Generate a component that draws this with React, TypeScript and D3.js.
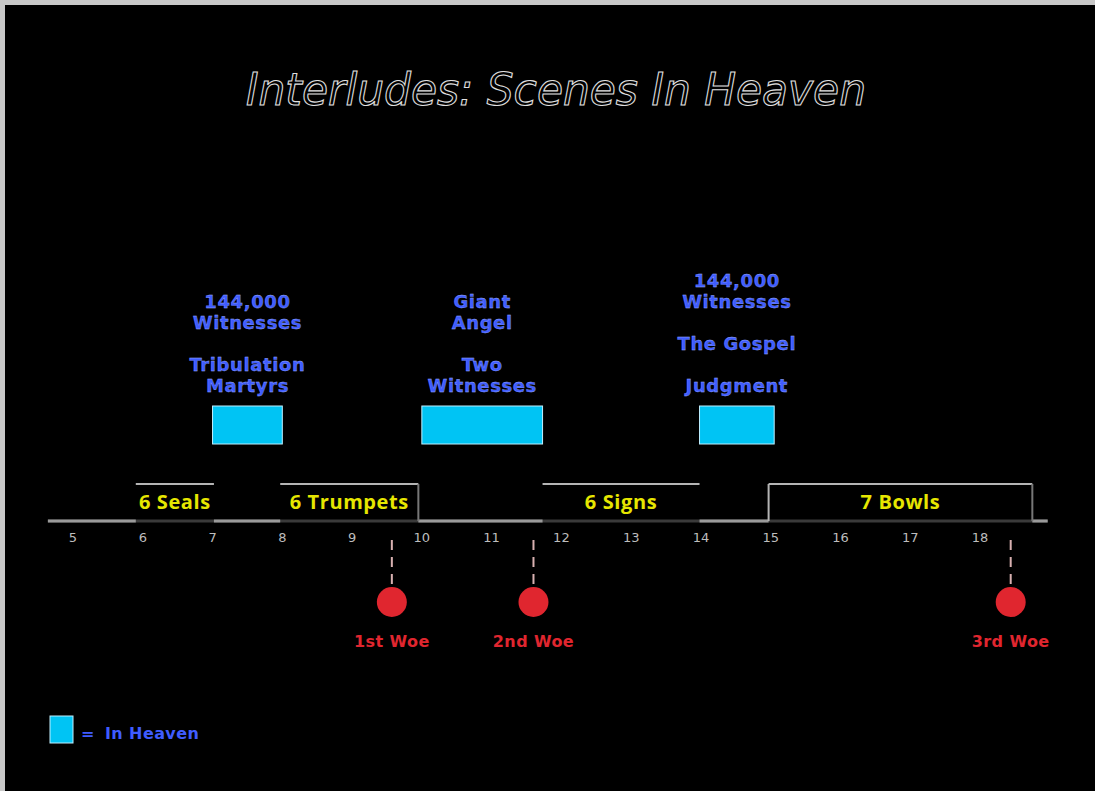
import React from "react";
import * as d3 from "d3";

const chapters = [5, 6, 7, 8, 9, 10, 11, 12, 13, 14, 15, 16, 17, 18];
const axisExtent = [4.64, 18.97];

const segLabels = ["6 Seals", "6 Trumpets", "6 Signs", "7 Bowls"];
const segStart = [5.9, 7.97, 11.73, 14.97];
const segEnd = [7.02, 9.95, 13.98, 18.75];
const segLeftEdge = [false, false, false, true];
const segRightEdge = [false, true, false, true];

const heavenStart = [7.0, 10.0, 13.98];
const heavenEnd = [8.0, 11.73, 15.05];
const heavenLabels = [
  [["144,000", "Witnesses"], ["Tribulation", "Martyrs"]],
  [["Giant", "Angel"], ["Two", "Witnesses"]],
  [["144,000", "Witnesses"], ["The Gospel"], ["Judgment"]],
];

const woeNames = ["1st Woe", "2nd Woe", "3rd Woe"];
const woeAt = [9.57, 11.6, 18.44];

const W = 1095;
const H = 791;

export default function App() {
  const x = d3.scaleLinear().domain([5, 18]).range([73, 980]);
  const base = 521;
  const top = 484;
  const blue = "#3f5cff";
  const red = "#e0262f";

  const gaps: [number, number][] = [];
  let prev = axisExtent[0];
  segStart.forEach((s, i) => {
    gaps.push([prev, s]);
    prev = segEnd[i];
  });
  gaps.push([prev, axisExtent[1]]);

  const line = d3.line<[number, number]>().x((d) => d[0]).y((d) => d[1]);

  return (
    <svg width={W} height={H} style={{ position: "absolute", left: 0, top: 0 }}>
      <rect x={0} y={0} width={W} height={H} fill="#c8c8c8" />
      <rect x={5} y={5} width={W - 5} height={H - 5} fill="#000" />

      <text
        x={556}
        y={105}
        textAnchor="middle"
        fontFamily="DejaVu Sans, sans-serif"
        fontStyle="italic"
        fontSize={44}
        fill="none"
        stroke="#e0e0e0"
        strokeWidth={1.1}
        textLength={620}
        lengthAdjust="spacingAndGlyphs"
      >
        Interludes: Scenes In Heaven
      </text>

      <path
        d={line([[x(axisExtent[0]), base], [x(axisExtent[1]), base]]) || ""}
        stroke="#3a3a3a"
        strokeWidth={3}
      />
      {gaps.map((g, i) => (
        <path
          key={"g" + i}
          d={line([[x(g[0]), base], [x(g[1]), base]]) || ""}
          stroke="#9a9a9a"
          strokeWidth={3}
        />
      ))}
      {segLabels.map((lab, i) => {
        const x0 = x(segStart[i]);
        const x1 = x(segEnd[i]);
        return (
          <g key={"s" + i}>
            <path d={line([[x0, top], [x1, top]]) || ""} stroke="#b4b4b4" strokeWidth={2} />
            {segLeftEdge[i] && (
              <path d={line([[x0, top], [x0, base]]) || ""} stroke="#b4b4b4" strokeWidth={2} />
            )}
            {segRightEdge[i] && (
              <path d={line([[x1, top], [x1, base]]) || ""} stroke="#777" strokeWidth={2} />
            )}
            <text
              x={(x0 + x1) / 2}
              y={509}
              textAnchor="middle"
              fontFamily="Open Sans, sans-serif"
              fontWeight="bold"
              fontSize={20}
              letterSpacing={0.6}
              fill="#e6e600"
            >
              {lab}
            </text>
          </g>
        );
      })}

      {chapters.map((c) => (
        <text
          key={"t" + c}
          x={x(c)}
          y={542}
          textAnchor="middle"
          fontFamily="DejaVu Sans, sans-serif"
          fontSize={13}
          fill="#bdbdbd"
        >
          {c}
        </text>
      ))}

      {heavenStart.map((s, i) => {
        const x0 = x(s);
        const x1 = x(heavenEnd[i]);
        const cx = (x0 + x1) / 2;
        const groups = heavenLabels[i];
        const lines: { t: string; y: number }[] = [];
        let y = 392;
        for (let g = groups.length - 1; g >= 0; g--) {
          const grp = groups[g];
          for (let k = grp.length - 1; k >= 0; k--) {
            lines.push({ t: grp[k], y });
            y -= 21;
          }
          y -= 21;
        }
        return (
          <g key={"h" + i}>
            <rect x={x0} y={406} width={x1 - x0} height={38} fill="#00c4f4" stroke="#bfefff" strokeWidth={1} />
            {lines.map((l, k) => (
              <text
                key={k}
                x={cx}
                y={l.y}
                textAnchor="middle"
                fontFamily="DejaVu Sans, sans-serif"
                fontWeight="bold"
                fontSize={18}
                letterSpacing={0.6}
                fill={blue}
                stroke="#9fb0ff"
                strokeWidth={0.3}
              >
                {l.t}
              </text>
            ))}
          </g>
        );
      })}

      {woeAt.map((w, i) => (
        <g key={"w" + i}>
          <line x1={x(w)} x2={x(w)} y1={540} y2={584} stroke="#d8b0b0" strokeWidth={2} strokeDasharray="10,7" />
          <circle cx={x(w)} cy={602} r={15} fill={red} />
          <text
            x={x(w)}
            y={647}
            textAnchor="middle"
            fontFamily="DejaVu Sans, sans-serif"
            fontWeight="bold"
            fontSize={16}
            letterSpacing={0.4}
            fill={red}
          >
            {woeNames[i]}
          </text>
        </g>
      ))}

      <rect x={50} y={716} width={23} height={27} fill="#00c4f4" stroke="#bfefff" strokeWidth={1} />
      <text x={81} y={739} fontFamily="DejaVu Sans, sans-serif" fontWeight="bold" fontSize={16} fill={blue}>
        =
      </text>
      <text x={105} y={739} fontFamily="DejaVu Sans, sans-serif" fontWeight="bold" fontSize={16} letterSpacing={0.4} fill={blue}>
        In Heaven
      </text>
    </svg>
  );
}
